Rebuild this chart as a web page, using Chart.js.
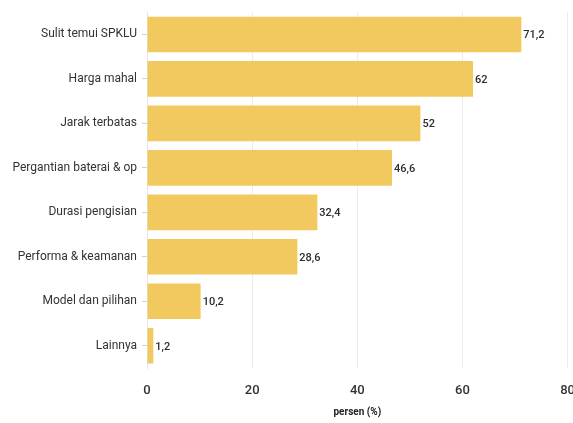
<!DOCTYPE html>
<html>
<head>
<meta charset="utf-8">
<script src="https://cdn.jsdelivr.net/npm/chart.js@4"></script>
<style>
  html, body { margin: 0; padding: 0; background: #fff; overflow: hidden; }
  #wrap { width: 590px; height: 423px; }
</style>
</head>
<body>
<div id="wrap"><canvas id="kendalaChart"></canvas></div>
<script>
const categories = [
  "Sulit temui SPKLU",
  "Harga mahal",
  "Jarak terbatas",
  "Pergantian baterai & op",
  "Durasi pengisian",
  "Performa & keamanan",
  "Model dan pilihan",
  "Lainnya",
];
const persen = [71.2, 62, 52, 46.6, 32.4, 28.6, 10.2, 1.2];
const xTicks = [0, 20, 40, 60, 80];

// writes the value just past the end of each bar, with a decimal comma
const valueLabels = {
  id: "valueLabels",
  afterDatasetsDraw(chart) {
    const ctx = chart.ctx;
    const meta = chart.getDatasetMeta(0);
    ctx.save();
    ctx.font = "500 11px Roboto, 'Noto Sans', sans-serif";
    ctx.fillStyle = "#2e2e2e";
    ctx.textBaseline = "middle";
    ctx.textAlign = "left";
    meta.data.forEach((bar, i) => {
      const txt = String(persen[i]).replace(".", ",");
      ctx.fillText(txt, bar.x + 2, bar.y + 1);
    });
    ctx.restore();
  },
};

new Chart(document.getElementById("kendalaChart"), {
  type: "bar",
  data: {
    labels: categories,
    datasets: [
      {
        data: persen,
        backgroundColor: "#F2C95E",
        borderWidth: 0,
        barPercentage: 0.8,
        categoryPercentage: 1,
      },
    ],
  },
  plugins: [valueLabels],
  options: {
    indexAxis: "y",
    responsive: true,
    maintainAspectRatio: false,
    animation: false,
    layout: { padding: { top: 8, right: 6, bottom: 0, left: 0 } },
    plugins: {
      legend: { display: false },
      tooltip: { enabled: false },
    },
    scales: {
      x: {
        min: 0,
        max: 80,
        afterBuildTicks: (scale) => {
          scale.ticks = xTicks.map((v) => ({ value: v }));
        },
        afterFit: (scale) => {
          scale.height = 55;
        },
        grid: { color: "#ebebeb", drawTicks: false },
        border: { display: false },
        ticks: {
          padding: 15,
          color: "#333",
          font: { family: "Roboto, 'Noto Sans', sans-serif", size: 13, weight: "500" },
        },
        title: {
          display: true,
          text: "persen (%)",
          color: "#222",
          padding: { top: 0, bottom: 5 },
          font: { family: "Roboto, 'Noto Sans', sans-serif", size: 10, weight: "bold" },
        },
      },
      y: {
        afterFit: (scale) => {
          scale.width = 147;
        },
        grid: { drawOnChartArea: false, offset: false, color: "#d0d0d0", tickLength: 5 },
        border: { color: "#e6e6e6" },
        ticks: {
          padding: 5,
          color: "#333",
          font: { family: "Roboto, 'Noto Sans', sans-serif", size: 12 },
        },
      },
    },
  },
});
</script>
</body>
</html>
